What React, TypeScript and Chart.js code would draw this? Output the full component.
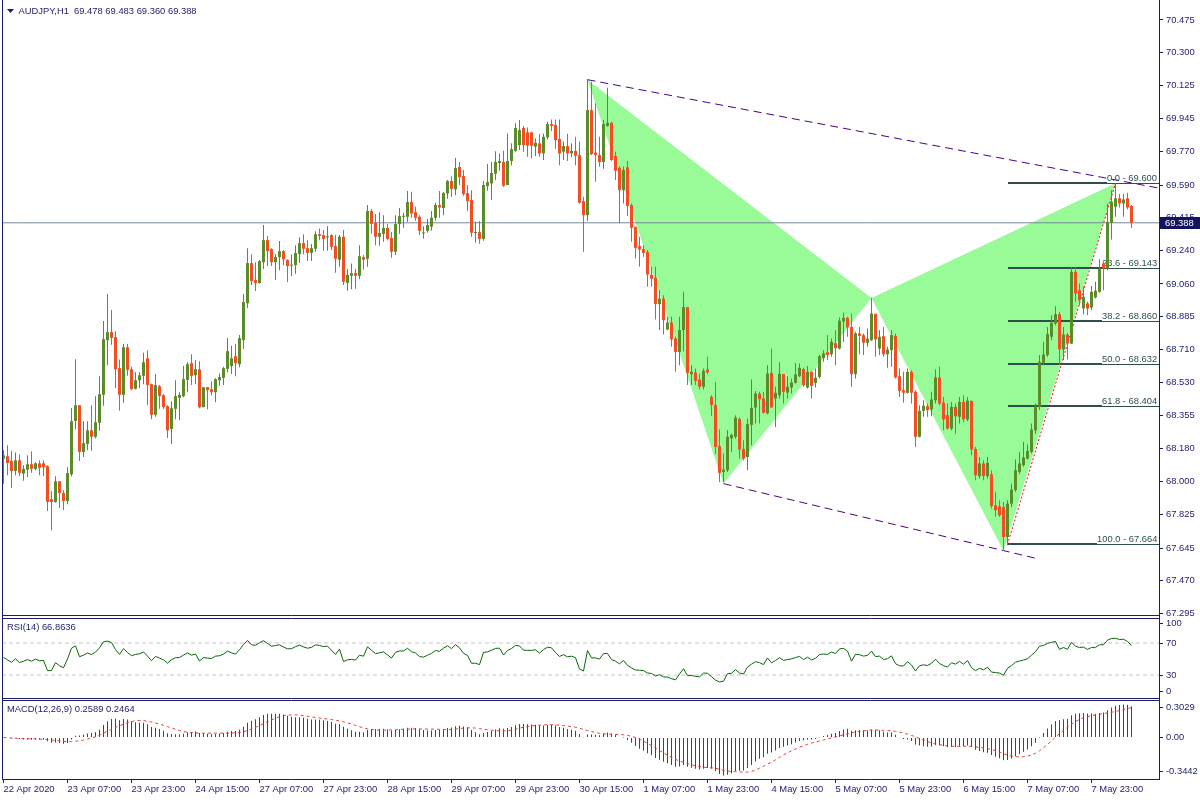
import React, { useEffect, useRef } from 'react';
import { Chart, registerables } from 'chart.js';

Chart.register(...registerables);

// ---------------- data ----------------
const headerText = 'AUDJPY,H1  69.478 69.483 69.360 69.388';

const opens = [
  68.124, 68.137, 68.112, 68.058, 68.115, 68.044, 68.065, 68.094, 68.069, 68.099,
  68.099, 68.083, 67.906, 67.892, 68.003, 67.940, 67.897, 68.040, 68.326, 68.410,
  68.160, 68.203, 68.276, 68.241, 68.316, 68.466, 68.759, 68.802, 68.775, 68.609,
  68.466, 68.721, 68.603, 68.498, 68.544, 68.568, 68.662, 68.523, 68.359, 68.512,
  68.464, 68.405, 68.283, 68.391, 68.450, 68.459, 68.546, 68.636, 68.571, 68.603,
  68.400, 68.507, 68.496, 68.480, 68.544, 68.557, 68.605, 68.620, 68.673, 68.630,
  68.759, 68.957, 69.172, 69.081, 69.065, 69.177, 69.295, 69.247, 69.177, 69.204,
  69.236, 69.188, 69.158, 69.161, 69.220,
  69.279, 69.252, 69.227, 69.249, 69.327, 69.322, 69.310, 69.322, 69.263, 69.190,
  69.313, 69.066, 69.104, 69.118, 69.104, 69.204, 69.195, 69.451, 69.388, 69.313,
  69.329, 69.360, 69.306, 69.233, 69.381, 69.420, 69.420, 69.499, 69.445, 69.420,
  69.331, 69.345, 69.367, 69.415, 69.483, 69.467, 69.546, 69.612, 69.567, 69.687,
  69.638, 69.547, 69.510, 69.333, 69.338, 69.302, 69.585, 69.599, 69.651, 69.708,
  69.714, 69.590, 69.719, 69.774, 69.805, 69.896, 69.873, 69.873, 69.796, 69.814,
  69.760, 69.846, 69.917, 69.912, 69.837, 69.769, 69.799,
  69.760, 69.773, 69.751, 69.504, 69.429, 69.992, 69.764, 69.751, 69.714, 69.907,
  69.924, 69.746, 69.683, 69.563, 69.685, 69.483, 69.367, 69.263, 69.247, 69.231,
  69.109, 69.093, 68.952, 68.982, 68.816, 68.854, 68.768, 68.696, 68.813, 68.936,
  68.577, 68.586, 68.548, 68.509, 68.602, 68.455, 68.412, 68.191, 68.053, 68.062,
  68.233, 68.241, 68.337, 68.176, 68.133, 68.305, 68.398, 68.473, 68.446, 68.366,
  68.584, 68.446, 68.464, 68.577, 68.478, 68.505, 68.530, 68.566, 68.604, 68.505,
  68.589, 68.530, 68.562, 68.663, 68.695, 68.684, 68.743, 68.714, 68.859, 68.879,
  68.830, 68.577, 68.795, 68.786, 68.745, 68.759, 68.900, 68.714, 68.780, 68.684,
  68.705, 68.782, 68.566, 68.491, 68.477, 68.589, 68.482, 68.241, 68.380, 68.405,
  68.387, 68.437, 68.559, 68.425, 68.357, 68.285, 68.401, 68.348, 68.428, 68.334,
  68.434, 68.176, 68.030, 68.098, 68.030, 68.040, 67.874, 67.869, 67.865, 67.704,
  67.883, 67.955, 68.053, 68.089, 68.124, 68.160, 68.276, 68.401, 68.637, 68.679,
  68.777, 68.848, 68.898, 68.709, 68.789, 68.741, 69.125, 69.027, 68.929, 68.956,
  68.934, 68.988, 69.018, 69.170, 69.143, 69.388, 69.474, 69.519, 69.492, 69.519,
  69.478,
];

const highs = [
  68.169, 68.196, 68.166, 68.157, 68.148, 68.089, 68.142, 68.164, 68.105, 68.115,
  68.115, 68.089, 67.949, 68.030, 68.003, 67.955, 68.078, 68.396, 68.657, 68.410,
  68.325, 68.325, 68.410, 68.459, 68.566, 68.861, 69.006, 68.920, 68.807, 68.655,
  68.738, 68.738, 68.616, 68.587, 68.587, 68.691, 68.705, 68.527, 68.577, 68.518,
  68.469, 68.410, 68.432, 68.544, 68.480, 68.620, 68.641, 68.684, 68.652, 68.646,
  68.507, 68.507, 68.539, 68.555, 68.580, 68.616, 68.771, 68.729, 68.738, 68.786,
  69.006, 69.252, 69.220, 69.177, 69.188, 69.376, 69.317, 69.252, 69.220, 69.290,
  69.242, 69.193, 69.220, 69.268, 69.311,
  69.327, 69.295, 69.274, 69.343, 69.358, 69.349, 69.370, 69.327, 69.322, 69.322,
  69.349, 69.140, 69.170, 69.140, 69.268, 69.215, 69.483, 69.462, 69.435, 69.445,
  69.429, 69.381, 69.338, 69.429, 69.467, 69.442, 69.558, 69.554, 69.474, 69.429,
  69.370, 69.408, 69.451, 69.495, 69.558, 69.553, 69.617, 69.638, 69.735, 69.714,
  69.671, 69.590, 69.563, 69.394, 69.397, 69.612, 69.703, 69.714, 69.771, 69.760,
  69.774, 69.867, 69.814, 69.921, 69.939, 69.907, 69.899, 69.876, 69.840, 69.864,
  69.867, 69.930, 69.942, 69.942, 69.942, 69.823, 69.865,
  69.814, 69.849, 69.823, 69.528, 70.159, 70.144, 70.028, 69.849, 69.939, 70.112,
  69.930, 69.769, 69.689, 69.689, 69.721, 69.492, 69.367, 69.313, 69.268, 69.242,
  69.152, 69.152, 69.027, 69.000, 68.884, 68.884, 68.777, 68.884, 69.018, 68.936,
  68.625, 68.607, 68.580, 68.607, 68.670, 68.464, 68.536, 68.280, 68.151, 68.276,
  68.258, 68.357, 68.344, 68.223, 68.339, 68.548, 68.487, 68.482, 68.482, 68.625,
  68.714, 68.509, 68.641, 68.577, 68.566, 68.553, 68.637, 68.634, 68.611, 68.620,
  68.589, 68.607, 68.679, 68.705, 68.786, 68.768, 68.813, 68.881, 68.906, 68.884,
  68.902, 68.804, 68.830, 68.795, 68.822, 68.986, 68.900, 68.813, 68.830, 68.723,
  68.813, 68.795, 68.607, 68.589, 68.607, 68.598, 68.491, 68.410, 68.437, 68.419,
  68.482, 68.602, 68.616, 68.455, 68.419, 68.428, 68.419, 68.455, 68.464, 68.455,
  68.434, 68.187, 68.133, 68.115, 68.133, 68.062, 67.946, 67.901, 67.892, 67.901,
  67.990, 68.119, 68.160, 68.214, 68.201, 68.312, 68.419, 68.679, 68.750, 68.830,
  68.893, 68.941, 68.911, 68.830, 68.798, 69.152, 69.152, 69.063, 69.045, 68.965,
  69.049, 69.072, 69.192, 69.179, 69.492, 69.563, 69.600, 69.542, 69.542, 69.549,
  69.483,
];

const lows = [
  67.990, 68.035, 67.967, 68.035, 68.031, 68.005, 68.026, 68.048, 68.062, 68.035,
  68.030, 67.844, 67.740, 67.887, 67.860, 67.847, 67.880, 68.030, 68.282, 68.112,
  68.133, 68.169, 68.166, 68.232, 68.273, 68.407, 68.625, 68.734, 68.503, 68.380,
  68.423, 68.568, 68.491, 68.494, 68.503, 68.523, 68.412, 68.335, 68.348, 68.391,
  68.391, 68.235, 68.203, 68.335, 68.330, 68.453, 68.480, 68.519, 68.523, 68.394,
  68.400, 68.389, 68.464, 68.426, 68.514, 68.519, 68.587, 68.577, 68.566, 68.614,
  68.711, 68.931, 69.054, 69.022, 69.061, 69.140, 69.156, 69.156, 69.081, 69.134,
  69.161, 69.070, 69.102, 69.115, 69.172,
  69.220, 69.183, 69.183, 69.233, 69.295, 69.238, 69.238, 69.242, 69.120, 69.152,
  69.054, 69.024, 69.032, 69.034, 69.086, 69.136, 69.152, 69.329, 69.268, 69.265,
  69.286, 69.293, 69.200, 69.215, 69.329, 69.361, 69.394, 69.417, 69.399, 69.322,
  69.302, 69.335, 69.345, 69.399, 69.415, 69.428, 69.517, 69.528, 69.535, 69.590,
  69.533, 69.451, 69.313, 69.281, 69.276, 69.292, 69.560, 69.510, 69.617, 69.667,
  69.581, 69.590, 69.697, 69.769, 69.778, 69.769, 69.742, 69.733, 69.746, 69.742,
  69.724, 69.835, 69.880, 69.785, 69.697, 69.724, 69.719,
  69.739, 69.697, 69.492, 69.233, 69.399, 69.751, 69.608, 69.688, 69.678, 69.903,
  69.721, 69.617, 69.385, 69.492, 69.424, 69.286, 69.197, 69.152, 69.206, 69.045,
  69.045, 68.870, 68.813, 68.789, 68.813, 68.723, 68.589, 68.625, 68.700, 68.518,
  68.518, 68.518, 68.494, 68.494, 68.577, 68.353, 68.148, 67.999, 67.999, 68.053,
  68.160, 68.231, 68.124, 68.116, 68.062, 68.196, 68.312, 68.312, 68.366, 68.362,
  68.398, 68.294, 68.446, 68.420, 68.446, 68.473, 68.527, 68.562, 68.509, 68.500,
  68.446, 68.505, 68.553, 68.643, 68.652, 68.670, 68.625, 68.709, 68.750, 68.777,
  68.509, 68.553, 68.684, 68.679, 68.723, 68.755, 68.670, 68.679, 68.670, 68.611,
  68.616, 68.553, 68.455, 68.423, 68.473, 68.419, 68.187, 68.237, 68.348, 68.348,
  68.351, 68.419, 68.410, 68.276, 68.280, 68.276, 68.258, 68.312, 68.321, 68.326,
  68.142, 68.008, 68.017, 68.008, 68.017, 67.856, 67.812, 67.812, 67.630, 67.660,
  67.865, 67.946, 68.040, 68.080, 68.119, 68.151, 68.258, 68.384, 68.625, 68.670,
  68.759, 68.839, 68.625, 68.652, 68.655, 68.738, 68.965, 68.947, 68.898, 68.893,
  68.920, 68.982, 69.013, 69.027, 69.134, 69.299, 69.420, 69.470, 69.420, 69.460,
  69.360,
];

const closes = [
  68.142, 68.101, 68.058, 68.115, 68.048, 68.069, 68.094, 68.069, 68.099, 68.074,
  68.078, 67.892, 67.892, 68.003, 67.940, 67.897, 68.046, 68.325, 68.410, 68.160,
  68.207, 68.276, 68.241, 68.319, 68.469, 68.764, 68.802, 68.771, 68.603, 68.466,
  68.721, 68.600, 68.496, 68.544, 68.571, 68.641, 68.519, 68.359, 68.518, 68.459,
  68.400, 68.276, 68.394, 68.459, 68.466, 68.550, 68.630, 68.568, 68.603, 68.400,
  68.507, 68.491, 68.480, 68.550, 68.561, 68.609, 68.700, 68.662, 68.636, 68.770,
  68.963, 69.172, 69.075, 69.065, 69.183, 69.295, 69.236, 69.177, 69.204, 69.236,
  69.192, 69.156, 69.161, 69.226, 69.279,
  69.249, 69.227, 69.252, 69.327, 69.317, 69.302, 69.313, 69.259, 69.195, 69.313,
  69.072, 69.109, 69.118, 69.104, 69.209, 69.190, 69.451, 69.383, 69.313, 69.333,
  69.360, 69.302, 69.233, 69.381, 69.424, 69.424, 69.499, 69.438, 69.415, 69.345,
  69.335, 69.376, 69.415, 69.483, 69.470, 69.547, 69.612, 69.570, 69.681, 69.633,
  69.542, 69.504, 69.335, 69.336, 69.302, 69.590, 69.606, 69.655, 69.714, 69.719,
  69.587, 69.719, 69.783, 69.896, 69.885, 69.805, 69.801, 69.801, 69.817, 69.760,
  69.849, 69.917, 69.907, 69.831, 69.760, 69.799, 69.760,
  69.773, 69.747, 69.495, 69.429, 69.992, 69.756, 69.751, 69.714, 69.917, 69.924,
  69.724, 69.667, 69.563, 69.671, 69.478, 69.361, 69.254, 69.245, 69.227, 69.111,
  69.088, 68.952, 68.982, 68.866, 68.854, 68.763, 68.696, 68.813, 68.936, 68.584,
  68.589, 68.541, 68.509, 68.595, 68.586, 68.412, 68.187, 68.048, 68.065, 68.241,
  68.251, 68.344, 68.173, 68.124, 68.309, 68.396, 68.473, 68.443, 68.369, 68.580,
  68.398, 68.477, 68.579, 68.482, 68.509, 68.532, 68.575, 68.611, 68.518, 68.589,
  68.514, 68.557, 68.673, 68.688, 68.679, 68.750, 68.716, 68.863, 68.879, 68.827,
  68.577, 68.795, 68.782, 68.745, 68.766, 68.902, 68.763, 68.777, 68.684, 68.709,
  68.786, 68.559, 68.487, 68.477, 68.589, 68.477, 68.241, 68.380, 68.407, 68.384,
  68.441, 68.559, 68.419, 68.334, 68.285, 68.401, 68.351, 68.428, 68.334, 68.434,
  68.173, 68.035, 68.098, 68.030, 68.101, 67.869, 67.847, 67.820, 67.704, 67.883,
  67.958, 68.062, 68.098, 68.130, 68.165, 68.280, 68.405, 68.643, 68.682, 68.791,
  68.852, 68.898, 68.709, 68.789, 68.741, 69.125, 69.009, 68.973, 68.991, 68.929,
  69.018, 69.024, 69.143, 69.143, 69.393, 69.501, 69.519, 69.492, 69.513, 69.470,
  69.388,
];

const xTickLabels = [
  '22 Apr 2020', '23 Apr 07:00', '23 Apr 23:00', '24 Apr 15:00', '27 Apr 07:00',
  '27 Apr 23:00', '28 Apr 15:00', '29 Apr 07:00', '29 Apr 23:00', '30 Apr 15:00',
  '1 May 07:00', '1 May 23:00', '4 May 15:00', '5 May 07:00', '5 May 23:00',
  '6 May 15:00', '7 May 07:00', '7 May 23:00',
];
const barsPerXTick = 16;

const priceTickLabels = [
  '70.475', '70.300', '70.125', '69.945', '69.770', '69.590', '69.415', '69.240',
  '69.060', '68.885', '68.710', '68.530', '68.355', '68.180', '68.000', '67.825',
  '67.645', '67.470', '67.295',
];
const rsiTickLabels = ['100', '70', '30', '0'];
const rsiTickValues = [94, 70, 30, 10];
const rsiLevels = [70, 30];
const macdTickLabels = ['0.3029', '0.00', '-0.3442'];
const macdTickValues = [0.252, 0, -0.284];

// harmonic pattern X, A, B, C, D
const patternBars = [146, 180, 217, 250, 278];
const patternPrices = [70.155, 67.99, 68.985, 67.63, 69.6];
// channel lines
const upperLineBars = [146, 278];
const upperLinePrices = [70.155, 69.618];
const lowerLineBars = [180, 259];
const lowerLinePrices = [67.99, 67.585];
// fibonacci retracement
const fibBars = [251, 278];
const fibPrices = [67.664, 69.6];
const fibLevels = [0, 23.6, 38.2, 50, 61.8, 100];

const currentPrice = 69.388;
const rsiTitle = 'RSI(14) 66.8636';
const macdTitle = 'MACD(12,26,9) 0.2589 0.2464';

// ---------------- layout / style ----------------
const X_MIN = -0.375;
const X_MAX = 288.875;
const PRICE_MIN = 67.286;
const PRICE_MAX = 70.582;
const MACD_MIN = -0.3442;
const MACD_MAX = 0.3029;

const FONT_FAMILY = "'Liberation Sans', Arial, sans-serif";
const FONT_SIZE = 9.4;
const NAVY = '#1c1c6c';
const UP = '#5a8d2a';
const DOWN = '#f24e22';
const FILL = '#98fb98';
const PURPLE = '#4b0082';
const FIB = '#2f4f4f';
const AXIS_W = 41;

Chart.defaults.font.family = FONT_FAMILY;
Chart.defaults.font.size = FONT_SIZE;

// ---------------- indicators ----------------
function computeRsi(values: number[], period: number): number[] {
  const out: number[] = [];
  let avgUp = 0.026;
  let avgDown = 0.024;
  out.push(100 - 100 / (1 + avgUp / avgDown));
  for (let i = 1; i < values.length; i++) {
    const d = values[i] - values[i - 1];
    avgUp = (avgUp * (period - 1) + Math.max(d, 0)) / period;
    avgDown = (avgDown * (period - 1) + Math.max(-d, 0)) / period;
    out.push(avgDown === 0 ? 100 : 100 - 100 / (1 + avgUp / avgDown));
  }
  return out;
}

function ema(values: number[], period: number): number[] {
  const k = 2 / (period + 1);
  const out: number[] = [];
  let e = values[0];
  values.forEach((v, i) => {
    e = i === 0 ? v : v * k + e * (1 - k);
    out.push(e);
  });
  return out;
}

function computeMacd(values: number[]) {
  const fast = ema(values, 12);
  const slow = ema(values, 26);
  const main = fast.map((f, i) => f - slow[i]);
  const signal = main.map((_, i) => {
    const from = Math.max(0, i - 8);
    const slice = main.slice(from, i + 1);
    return slice.reduce((a, b) => a + b, 0) / slice.length;
  });
  return { main, signal };
}

// ---------------- helpers ----------------
const fontStr = (size = FONT_SIZE) => `${size}px ${FONT_FAMILY}`;

function hiddenX(): any {
  return {
    type: 'linear',
    min: X_MIN,
    max: X_MAX,
    display: false,
    offset: false,
    grid: { display: false, offset: false },
  };
}

function rightAxis(min: number, max: number, labels: string[], values: number[]): any {
  return {
    type: 'linear',
    position: 'right',
    min,
    max,
    beginAtZero: false,
    border: { display: false },
    grid: { display: true, drawOnChartArea: false, drawTicks: true, tickLength: 4, color: NAVY, lineWidth: 1 },
    ticks: {
      autoSkip: false,
      color: NAVY,
      padding: 3,
      font: { family: FONT_FAMILY, size: FONT_SIZE },
      callback: (_v: any, i: number) => labels[i] ?? '',
    },
    afterBuildTicks: (s: any) => {
      s.ticks = values.map((v) => ({ value: v }));
    },
    afterFit: (s: any) => {
      s.width = AXIS_W;
      s.paddingTop = 0;
      s.paddingBottom = 0;
    },
  };
}

function drawFrame(ctx: CanvasRenderingContext2D, chart: any, vBottom: number, hLines: number[]) {
  const { chartArea } = chart;
  ctx.save();
  ctx.strokeStyle = NAVY;
  ctx.lineWidth = 1;
  ctx.beginPath();
  ctx.moveTo(2.5, 0);
  ctx.lineTo(2.5, vBottom);
  ctx.moveTo(chartArea.right + 0.5, 0);
  ctx.lineTo(chartArea.right + 0.5, vBottom);
  hLines.forEach((y) => {
    ctx.moveTo(2, y);
    ctx.lineTo(chartArea.right + 1, y);
  });
  ctx.stroke();
  ctx.restore();
}

const commonOptions: any = {
  responsive: false,
  animation: false,
  devicePixelRatio: 1,
  events: [],
  plugins: { legend: { display: false }, tooltip: { enabled: false } },
};

// ---------------- charts ----------------
function makeMain(canvas: HTMLCanvasElement) {
  const n = closes.length;
  const idx = closes.map((_, i) => i);
  const colors = idx.map((i) => (closes[i] >= opens[i] ? UP : DOWN));
  const P = (i: number) => ({ x: patternBars[i], y: patternPrices[i] });
  const upperSlope = (upperLinePrices[1] - upperLinePrices[0]) / (upperLineBars[1] - upperLineBars[0]);
  const upperEnd = upperLinePrices[0] + upperSlope * (X_MAX - upperLineBars[0]);

  const line = (data: any[], color: string, dash: number[], order: number, width = 1): any => ({
    type: 'line',
    data,
    borderColor: color,
    borderWidth: width,
    borderDash: dash,
    pointRadius: 0,
    tension: 0,
    fill: false,
    order,
  });

  const WICK_INDEX = 0;

  const overlay = {
    id: 'mainOverlay',
    beforeDatasetDraw(chart: any, args: any) {
      if (args.index !== WICK_INDEX) return;
      const { ctx, chartArea, scales } = chart;
      const x0 = Math.round(scales.x.getPixelForValue(fibBars[0]));
      ctx.save();
      ctx.font = fontStr();
      ctx.fillStyle = FIB;
      ctx.textAlign = 'left';
      ctx.textBaseline = 'alphabetic';
      fibLevels.forEach((lvl) => {
        const price = fibPrices[1] - (lvl / 100) * (fibPrices[1] - fibPrices[0]);
        const py = Math.round(scales.y.getPixelForValue(price));
        const label = `${lvl.toFixed(1)} - ${price.toFixed(3)}`;
        const w = ctx.measureText(label).width;
        const tx = Math.round(chartArea.right - 2 - w);
        ctx.fillRect(x0, py - 1, tx - x0, 2);
        ctx.fillRect(tx, py, chartArea.right - tx, 1);
        ctx.fillText(label, tx, py - 2);
      });
      ctx.restore();
    },
    afterDraw(chart: any) {
      const { ctx, chartArea, scales } = chart;
      ctx.save();
      // current price tag
      const py = scales.y.getPixelForValue(currentPrice);
      ctx.fillStyle = '#14145e';
      ctx.fillRect(chartArea.right + 1, Math.round(py) - 6, AXIS_W - 1, 12);
      ctx.fillStyle = '#ffffff';
      ctx.font = fontStr();
      ctx.textAlign = 'left';
      ctx.textBaseline = 'middle';
      ctx.fillText(currentPrice.toFixed(3), chartArea.right + 6, Math.round(py) + 0.5);
      // header
      ctx.fillStyle = NAVY;
      ctx.beginPath();
      ctx.moveTo(7, 9);
      ctx.lineTo(14, 9);
      ctx.lineTo(10.5, 13);
      ctx.closePath();
      ctx.fill();
      ctx.fillText(headerText, 18.5, 11.5);
      ctx.restore();
      drawFrame(ctx, chart, 616, [chartArea.bottom + 0.5]);
    },
  };

  return new Chart(canvas, {
    type: 'bar',
    data: {
      datasets: [
        {
          type: 'bar',
          data: idx.map((i) => ({ x: i, y: [lows[i], highs[i]] })),
          backgroundColor: colors,
          borderWidth: 0,
          barThickness: 1,
          grouped: false,
          inflateAmount: 0,
          order: 2,
        } as any,
        {
          type: 'bar',
          data: idx.map((i) => ({ x: i, y: [opens[i], closes[i]] })),
          backgroundColor: colors,
          borderWidth: 0,
          barThickness: 3,
          minBarLength: 1,
          grouped: false,
          inflateAmount: 0,
          order: 1,
        } as any,
        {
          type: 'line',
          data: [P(0), P(1), P(2), P(0)],
          backgroundColor: FILL,
          borderWidth: 0,
          pointRadius: 0,
          tension: 0,
          fill: 'shape',
          order: 12,
        } as any,
        {
          type: 'line',
          data: [P(2), P(3), P(4), P(2)],
          backgroundColor: FILL,
          borderWidth: 0,
          pointRadius: 0,
          tension: 0,
          fill: 'shape',
          order: 11,
        } as any,
        line(
          [
            { x: upperLineBars[0], y: upperLinePrices[0] },
            { x: X_MAX, y: upperEnd },
          ],
          PURPLE,
          [8, 5],
          10
        ),
        line(
          [
            { x: lowerLineBars[0], y: lowerLinePrices[0] },
            { x: lowerLineBars[1], y: lowerLinePrices[1] },
          ],
          PURPLE,
          [8, 5],
          9
        ),
        line(
          [
            { x: X_MIN, y: currentPrice },
            { x: X_MAX, y: currentPrice },
          ],
          '#778899',
          [],
          8
        ),
        line(
          [
            { x: fibBars[0], y: fibPrices[0] },
            { x: fibBars[1], y: fibPrices[1] },
          ],
          '#ff0000',
          [2, 2],
          7
        ),
      ],
    },
    options: {
      ...commonOptions,
      layout: { padding: { left: 2, top: 0, right: 0, bottom: 1 } },
      scales: {
        x: hiddenX(),
        y: rightAxis(PRICE_MIN, PRICE_MAX, priceTickLabels, priceTickLabels.map((l) => parseFloat(l))),
      },
    },
    plugins: [overlay],
  } as any);
}

function makeRsi(canvas: HTMLCanvasElement) {
  const rsi = computeRsi(closes, 14);
  const overlay = {
    id: 'rsiOverlay',
    afterDraw(chart: any) {
      const { ctx, chartArea } = chart;
      ctx.save();
      ctx.font = fontStr();
      ctx.fillStyle = NAVY;
      ctx.textAlign = 'left';
      ctx.textBaseline = 'middle';
      ctx.fillText(rsiTitle, 7, 11.5);
      ctx.restore();
      drawFrame(ctx, chart, 84, [2.5, chartArea.bottom - 0.5]);
    },
  };
  return new Chart(canvas, {
    type: 'line',
    data: {
      datasets: [
        {
          data: rsi.map((v, i) => ({ x: i, y: v })),
          borderColor: '#0a640a',
          borderWidth: 1,
          pointRadius: 0,
          tension: 0,
          order: 1,
        },
        ...rsiLevels.map((lv) => ({
          data: [
            { x: X_MIN, y: lv },
            { x: X_MAX, y: lv },
          ],
          borderColor: '#c4c4c4',
          borderWidth: 1,
          borderDash: [4, 3],
          pointRadius: 0,
          order: 2,
        })),
      ],
    },
    options: {
      ...commonOptions,
      layout: { padding: { left: 2, top: 3, right: 0, bottom: 1 } },
      scales: {
        x: hiddenX(),
        y: rightAxis(0, 100, rsiTickLabels, rsiTickValues),
      },
    },
    plugins: [overlay],
  } as any);
}

function makeMacd(canvas: HTMLCanvasElement) {
  const { main, signal } = computeMacd(closes);
  const overlay = {
    id: 'macdOverlay',
    afterDraw(chart: any) {
      const { ctx, chartArea } = chart;
      ctx.save();
      ctx.font = fontStr();
      ctx.fillStyle = NAVY;
      ctx.textAlign = 'left';
      ctx.textBaseline = 'middle';
      ctx.fillText(macdTitle, 7, 10.5);
      ctx.restore();
      drawFrame(ctx, chart, chartArea.bottom + 1, [1.5, chartArea.bottom + 0.5]);
    },
  };
  return new Chart(canvas, {
    type: 'bar',
    data: {
      datasets: [
        {
          type: 'line',
          data: signal.map((v, i) => ({ x: i, y: v })),
          borderColor: '#e0433a',
          borderWidth: 1,
          borderDash: [3, 3],
          pointRadius: 0,
          tension: 0,
          order: 1,
        },
        {
          type: 'bar',
          data: main.map((v, i) => ({ x: i, y: v })),
          backgroundColor: '#2f4f4f',
          borderWidth: 0,
          barThickness: 1,
          inflateAmount: 0,
          order: 2,
        },
      ],
    },
    options: {
      ...commonOptions,
      layout: { padding: { left: 2, top: 2, right: 0, bottom: 0 } },
      scales: {
        x: {
          type: 'linear',
          min: X_MIN,
          max: X_MAX,
          position: 'bottom',
          offset: false,
          border: { display: false },
          grid: {
            display: true,
            offset: false,
            drawOnChartArea: false,
            drawTicks: true,
            tickLength: 4,
            color: NAVY,
            lineWidth: 1,
          },
          ticks: {
            autoSkip: false,
            maxRotation: 0,
            minRotation: 0,
            align: 'start',
            padding: 1,
            color: NAVY,
            font: { family: FONT_FAMILY, size: FONT_SIZE },
            callback: (_v: any, i: number) => xTickLabels[i] ?? '',
          },
          afterBuildTicks: (s: any) => {
            s.ticks = xTickLabels.map((_, i) => ({ value: i * barsPerXTick }));
          },
          afterFit: (s: any) => {
            s.height = 21;
            s.paddingLeft = 0;
            s.paddingRight = 0;
          },
        },
        y: rightAxis(MACD_MIN, MACD_MAX, macdTickLabels, macdTickValues),
      },
    },
    plugins: [overlay],
  } as any);
}

export default function App() {
  const mainRef = useRef<HTMLCanvasElement>(null);
  const rsiRef = useRef<HTMLCanvasElement>(null);
  const macdRef = useRef<HTMLCanvasElement>(null);

  useEffect(() => {
    const charts = [
      makeMain(mainRef.current as HTMLCanvasElement),
      makeRsi(rsiRef.current as HTMLCanvasElement),
      makeMacd(macdRef.current as HTMLCanvasElement),
    ];
    return () => charts.forEach((c) => c.destroy());
  }, []);

  return (
    <div style={{ position: 'fixed', left: 0, top: 0, width: 1200, height: 800, background: '#ffffff' }}>
      <canvas ref={mainRef} width={1200} height={616} style={{ position: 'absolute', left: 0, top: 0, width: 1200, height: 616 }} />
      <canvas ref={rsiRef} width={1200} height={84} style={{ position: 'absolute', left: 0, top: 616, width: 1200, height: 84 }} />
      <canvas ref={macdRef} width={1200} height={101} style={{ position: 'absolute', left: 0, top: 699, width: 1200, height: 101 }} />
    </div>
  );
}
